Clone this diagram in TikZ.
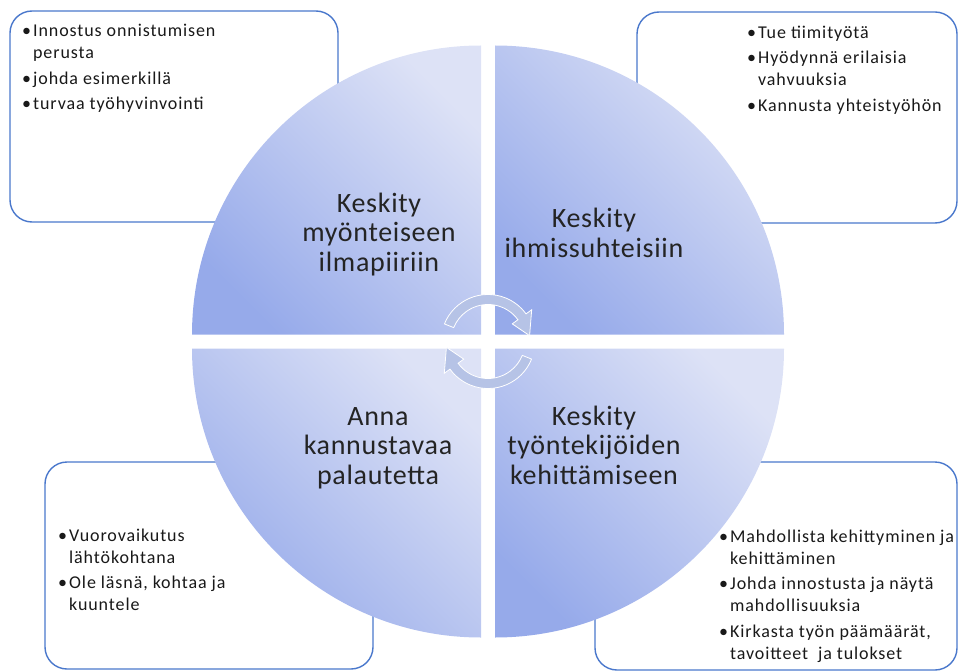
\documentclass[tikz,border=0pt]{standalone}
\usepackage{fontspec}
\usepackage{tikz}
\usepackage{xcolor}
\setmainfont{Carlito}
\newfontfamily\boxfont[LetterSpace=5]{Carlito}
\newfontfamily\titlefont[LetterSpace=2.5]{Carlito}

\definecolor{quaddark}{RGB}{150,170,234}
\definecolor{quadlight}{RGB}{221,226,246}
\definecolor{boxline}{RGB}{74,120,204}
\definecolor{cyclefill}{RGB}{182,195,230}
\definecolor{titletext}{RGB}{36,36,36}

\newcommand{\bul}{\textbullet\kern2pt}
\newcommand{\cont}{\phantom{\textbullet\kern2pt}}

\begin{document}
\begin{tikzpicture}[x=1pt,y=1pt,
    infobox/.style={draw=boxline,line width=1.4pt,rounded corners=22pt,fill=white,inner sep=0pt},
    listtext/.style={anchor=north west,inner sep=0pt,align=left,font=\boxfont\fontsize{18}{22}\selectfont,text=black!90},
    quadrant/.style={top color=quadlight,bottom color=quaddark,shading angle=-45},
    quadtitle/.style={align=center,inner sep=0pt,font=\titlefont\fontsize{28}{29.5}\selectfont,text=titletext},
    cyclearrow/.style={fill=cyclefill,draw=white,line width=0.8pt}]
    \useasboundingbox (0,0) rectangle (958,-671);

    % Boxes
    \node[infobox,minimum width=328pt,minimum height=211pt] (tlbox) at (174,-116.5) {};
    \node[infobox,minimum width=320pt,minimum height=211pt] (trbox) at (797,-117.5) {};
    \node[infobox,minimum width=328pt,minimum height=207pt] (blbox) at (209,-565.5) {};
    \node[infobox,minimum width=362pt,minimum height=208pt] (brbox) at (776,-566) {};

    \node[listtext] (tltext) at (22,-24) {\bul Innostus onnistumisen\\\cont perusta\\[3.5pt]\bul johda esimerkillä\\[3.5pt]\bul turvaa työhyvinvointi};
    \node[listtext] (trtext) at (747,-25.5) {\bul Tue tiimityötä\\[3.5pt]\bul Hyödynnä erilaisia\\\cont vahvuuksia\\[3.5pt]\bul Kannusta yhteistyöhön};
    \node[listtext] (bltext) at (58,-528.5) {\bul Vuorovaikutus\\\cont lähtökohtana\\[3.5pt]\bul Ole läsnä, kohtaa ja\\\cont kuuntele};
    \node[listtext] (brtext) at (719,-529.5) {\bul Mahdollista kehittyminen ja\\\cont kehittäminen\\[3.5pt]\bul Johda innostusta ja näytä\\\cont mahdollisuuksia\\[3.5pt]\bul Kirkasta työn päämäärät,\\\cont tavoitteet\ \ ja tulokset};

    % Quadrants
    \path[quadrant] (481,-334.5) -- ++(-289,0) arc[start angle=180,end angle=90,radius=289] -- cycle;
    \path[quadrant] (495,-334.5) -- ++(289,0) arc[start angle=0,end angle=90,radius=289] -- cycle;
    \path[quadrant] (481,-348.5) -- ++(-289,0) arc[start angle=180,end angle=270,radius=289] -- cycle;
    \path[quadrant] (495,-348.5) -- ++(289,0) arc[start angle=0,end angle=-90,radius=289] -- cycle;

    % Cycle arrows
    \begin{scope}[shift={(488,-341.5)}]
        \path[cyclearrow] (158:47) arc[start angle=158,end angle=36,radius=47] -- (36:54) -- (8:42) -- (36:30) -- (36:37) arc[start angle=36,end angle=158,radius=37] -- cycle;
        \begin{scope}[rotate=180]
            \path[cyclearrow] (158:47) arc[start angle=158,end angle=36,radius=47] -- (36:54) -- (8:42) -- (36:30) -- (36:37) arc[start angle=36,end angle=158,radius=37] -- cycle;
        \end{scope}
    \end{scope}

    % Titles
    \node[quadtitle] (tltitle) at (379,-234.5) {Keskity\\myönteiseen\\ilmapiiriin};
    \node[quadtitle] (trtitle) at (594,-233) {Keskity\\ihmissuhteisiin};
    \node[quadtitle] (bltitle) at (378,-448) {Anna\\kannustavaa\\palautetta};
    \node[quadtitle] (brtitle) at (594,-445) {Keskity\\työntekijöiden\\kehittämiseen};
\end{tikzpicture}
\end{document}
